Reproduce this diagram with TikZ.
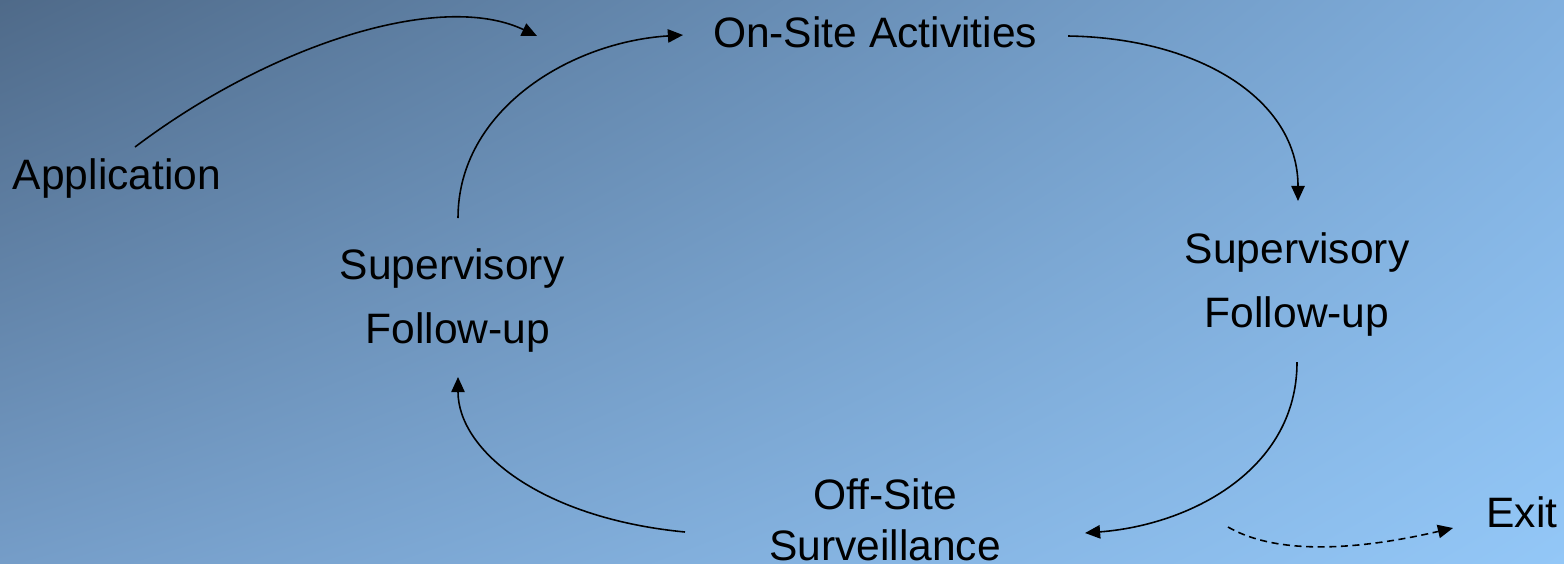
\documentclass[tikz,border=0pt]{standalone}
\usepackage{fontspec}
\setmainfont{Liberation Sans}
\usetikzlibrary{arrows.meta,shadings}
\definecolor{bgUL}{RGB}{79,106,137}
\definecolor{bgUR}{RGB}{128,175,222}
\definecolor{bgLL}{RGB}{117,157,200}
\definecolor{bgLR}{RGB}{147,199,247}
\tikzset{
  stage/.style={inner sep=0pt, font=\fontsize{12.1}{18.2}\selectfont, align=center, text=black},
  flow/.style={line width=0.45pt, -{Triangle[length=4.3pt,width=3.8pt]}},
  exitflow/.style={flow, dash pattern=on 2pt off 1.3pt},
}
\begin{document}
\begin{tikzpicture}[x=0.01cm,y=-0.01cm]
  % backdrop with a diagonal dark-to-light blue gradient
  \useasboundingbox (0,0) rectangle (1564,563);
  \shade[upper left=bgUL, upper right=bgUR, lower left=bgLL, lower right=bgLR]
    (0,0) rectangle (1564,563);

  % stages of the cycle
  \node[stage] (app) at (117,178) {Application};
  \node[stage] (onsite) at (875,32) {On-Site Activities};
  \node[stage] (supL) at (452,300) {Supervisory\\ \hspace{0.12cm}Follow-up};
  \node[stage] (supR) at (1297,284) {Supervisory\\ Follow-up};
  \node[stage, font=\fontsize{12.1}{14.5}\selectfont] (offsite) at (885,520) {Off-Site\\ Surveillance};
  \node[stage] (exit) at (1522,512) {Exit};

  % free ends of the connectors
  \coordinate (a1s) at (135,147);  \coordinate (a1e) at (537,36);
  \coordinate (a2s) at (458,218);  \coordinate (a2e) at (683,35);
  \coordinate (a3s) at (1068,36);  \coordinate (a3e) at (1298,201);
  \coordinate (a4s) at (1297,362); \coordinate (a4e) at (1085,533);
  \coordinate (a5s) at (685,532);  \coordinate (a5e) at (458,377);
  \coordinate (a6s) at (1228,527); \coordinate (a6e) at (1453,528);

  % connectors
  \draw[flow] (a1s) .. controls (270,45) and (440,-10) .. (a1e);
  \draw[flow] (a2s) .. controls (458,110) and (570,42) .. (a2e);
  \draw[flow] (a3s) .. controls (1200,38) and (1298,100) .. (a3e);
  \draw[flow] (a4s) .. controls (1297,470) and (1190,525) .. (a4e);
  \draw[flow] (a5s) .. controls (540,518) and (458,450) .. (a5e);
  \draw[exitflow] (a6s) .. controls (1285,560) and (1380,545) .. (a6e);
\end{tikzpicture}
\end{document}
